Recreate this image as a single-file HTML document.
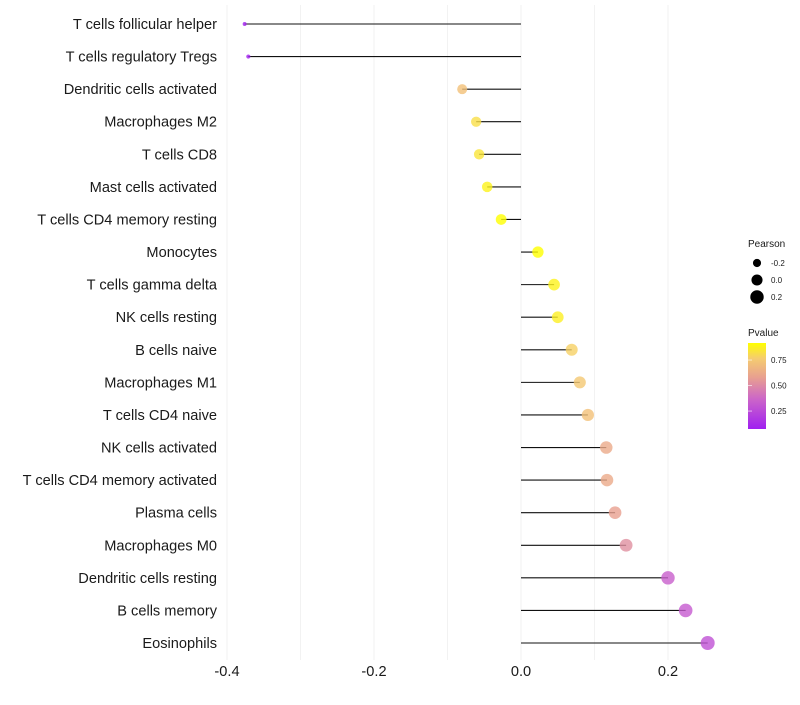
<!DOCTYPE html>
<html><head><meta charset="utf-8"><style>
body{margin:0;background:#fff;font-family:"Liberation Sans",sans-serif}
</style></head><body>
<svg id="chart" width="800" height="700" xmlns="http://www.w3.org/2000/svg" font-family="Liberation Sans, sans-serif">
<g id="grid"></g>
<g id="stems"></g>
<g id="points"></g>
<g id="ylabels" style="white-space:pre"></g>
<g id="xlabels"></g>
<g>
<text x="748" y="247" font-size="10" fill="#1a1a1a">Pearson</text>
<g id="sizeleg"></g>
</g>
<g>
<text x="748" y="336" font-size="10" fill="#1a1a1a">Pvalue</text>
<defs><linearGradient id="pg" x1="0" y1="1" x2="0" y2="0">
<stop offset="0" stop-color="#a020f0"/><stop offset="0.35" stop-color="#cc66c8"/><stop offset="0.6" stop-color="#e8a090"/><stop offset="0.82" stop-color="#f5cc70"/><stop offset="1" stop-color="#ffff00"/></linearGradient></defs>
<rect x="748" y="343" width="18" height="86" fill="url(#pg)"/>
<g id="colleg"></g>
</g>
</svg>
<script>
const categories=["T cells follicular helper","T cells regulatory  Tregs ","Dendritic cells activated","Macrophages M2","T cells CD8","Mast cells activated","T cells CD4 memory resting","Monocytes","T cells gamma delta","NK cells resting","B cells naive","Macrophages M1","T cells CD4 naive","NK cells activated","T cells CD4 memory activated","Plasma cells","Macrophages M0","Dendritic cells resting","B cells memory","Eosinophils"];
const pearson=[-0.376,-0.371,-0.080,-0.061,-0.057,-0.046,-0.027,0.023,0.045,0.050,0.069,0.080,0.091,0.116,0.117,0.128,0.143,0.200,0.224,0.254];
const pvalue=[0.08,0.08,0.72,0.82,0.84,0.88,0.95,0.95,0.88,0.87,0.78,0.75,0.72,0.62,0.62,0.58,0.52,0.34,0.32,0.28];
const xTicks=[-0.4,-0.2,0.0,0.2];
const xTickLabels=["-0.4","-0.2","0.0","0.2"];
const minorTicks=[-0.3,-0.1,0.1];
const sizeLegend=[-0.2,0.0,0.2];
const colorLegend=[0.25,0.50,0.75];

const NS="http://www.w3.org/2000/svg";
const x=v=>521+v*735;
const y=i=>24+i*(619/(categories.length-1));
const r=v=>Math.sqrt(Math.max(2,4+(v+0.375)*71.5));
const pMin=0.074,pMax=0.917;
const stops=[[0,[160,32,240]],[0.35,[204,102,200]],[0.6,[232,160,144]],[0.82,[245,204,112]],[1,[255,255,0]]];
function col(p){let t=(p-pMin)/(pMax-pMin);t=Math.max(0,Math.min(1,t));
 for(let k=1;k<stops.length;k++){if(t<=stops[k][0]){const a=stops[k-1],b=stops[k];const f=(t-a[0])/(b[0]-a[0]);
 return "rgb("+a[1].map((c,j)=>Math.round(c+(b[1][j]-c)*f)).join(",")+")";}}return "rgb(255,255,0)";}
function mk(tag,attrs,parent){const e=document.createElementNS(NS,tag);for(const k in attrs)e.setAttribute(k,attrs[k]);parent.appendChild(e);return e;}
const grid=document.getElementById("grid");
xTicks.concat(minorTicks).forEach(v=>{const l=mk("line",{x1:x(v),x2:x(v),y1:5,y2:660,stroke:"#f2f2f2","stroke-width":1},grid);

});
const stems=document.getElementById("stems"),pts=document.getElementById("points"),yl=document.getElementById("ylabels"),xl=document.getElementById("xlabels");
categories.forEach((c,i)=>{
 const l=mk("line",{x1:x(0),x2:x(pearson[i]),y1:y(i),y2:y(i),stroke:"#111","stroke-width":1.1},stems);
 
 
 const p=mk("circle",{cx:x(pearson[i]),cy:y(i),r:r(pearson[i]),fill:col(pvalue[i]),"fill-opacity":0.8},pts);
 
 
 const t=mk("text",{x:217,y:y(i)+5,"text-anchor":"end","font-size":14.6,fill:"#1a1a1a"},yl);
 t.textContent=c;
 
 
});
xTicks.forEach((v,i)=>{const t=mk("text",{x:x(v),y:676,"text-anchor":"middle","font-size":14.6,fill:"#1a1a1a"},xl);
 t.textContent=xTickLabels[i];
 
 });
const sl=document.getElementById("sizeleg");
sizeLegend.forEach((v,i)=>{const cy=263+i*17;
 const c=mk("circle",{cx:757,cy:cy,r:r(v),fill:"#000"},sl);
 
 
 const t=mk("text",{x:771,y:cy+3,"font-size":8,fill:"#1a1a1a"},sl);t.textContent=v.toFixed(1);
 
 });
const cl=document.getElementById("colleg");
colorLegend.forEach(v=>{const cy=429-(v-pMin)/(pMax-pMin)*86;
 const l=mk("line",{x1:748,x2:752,y1:cy,y2:cy,stroke:"#fff","stroke-width":0.6},cl);
 
 
 const t=mk("text",{x:771,y:cy+3,"font-size":8,fill:"#1a1a1a"},cl);t.textContent=v.toFixed(2);
 
 });
</script>
</body></html>
